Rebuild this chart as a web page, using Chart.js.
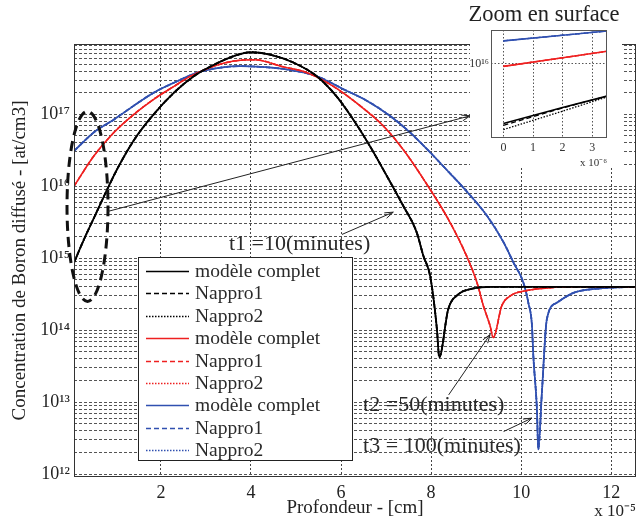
<!DOCTYPE html>
<html><head><meta charset="utf-8">
<script src="https://cdn.jsdelivr.net/npm/chart.js@4.4.1/dist/chart.umd.min.js"></script>
<style>
html,body{margin:0;padding:0;background:#fff;}
#wrap{position:relative;width:637px;height:523px;overflow:hidden;}
#mainBox{position:absolute;left:0;top:0;width:637px;height:523px;}
#insetBox{position:absolute;left:460px;top:0;width:177px;height:170px;}
</style></head><body>
<div id="wrap">
  <div id="mainBox"><canvas id="main"></canvas></div>
  <div id="insetBox"><canvas id="inset"></canvas></div>
</div>
<script>
// ---------- DATA (depth in units of 1e-5 cm, concentration in at/cm3) ----------
const depthT1 = [0.07,0.29,0.55,0.81,1.03,1.40,1.81,2.29,2.73,3.18,3.62,3.99,4.42,4.94,5.46,5.90,6.27,6.64,7.02,7.38,7.68,7.83,7.98,8.13,8.18,8.38,8.61,8.87,9.38,12.55];
const concT1  = [8.7e14,1.82e15,4.07e15,9.1e15,1.74e16,4.37e16,9.5e16,2.0e17,3.39e17,4.9e17,6.46e17,7.3e17,6.76e17,5.25e17,3.39e17,1.78e17,8.5e16,3.63e16,1.38e16,5.37e15,2.29e15,1.07e15,5.6e14,1.02e14,4.2e13,1.95e14,3.16e14,3.72e14,4.0e14,4.0e14];

const depthT2 = [0.07,0.51,0.96,1.40,1.84,2.29,2.66,3.18,3.62,4.07,4.72,5.24,5.83,6.42,6.94,7.38,7.83,8.42,8.79,9.02,9.16,9.31,9.38,9.57,9.76,10.13,10.64,11.20,12.55];
const concT2  = [1.0e16,2.63e16,5.62e16,1.0e17,1.62e17,2.45e17,3.39e17,4.68e17,5.5e17,5.75e17,4.57e17,3.8e17,2.45e17,1.32e17,6.9e16,3.24e16,1.26e16,3.16e15,1.07e15,4.57e14,2.19e14,1.15e14,7.9e13,2.19e14,3.0e14,3.55e14,3.9e14,4.0e14,4.0e14];

const depthT3 = [0.07,0.51,0.96,1.40,1.84,2.29,2.81,3.33,3.77,4.21,4.72,5.46,6.05,6.57,7.09,7.53,7.98,8.42,8.72,9.24,9.61,9.83,10.05,10.16,10.24,10.27,10.35,10.38,10.46,10.57,10.79,11.16,11.76,12.55];
const concT3  = [3.09e16,5.62e16,8.5e16,1.32e17,2.0e17,2.75e17,3.8e17,4.47e17,4.68e17,4.57e17,4.27e17,3.39e17,2.24e17,1.55e17,9.5e16,5.62e16,2.95e16,1.51e16,9.5e15,3.9e15,1.66e15,8.7e14,4.57e14,2.4e14,1.15e14,4.4e13,7.9e12,2.2e12,1.35e13,1.41e14,2.4e14,3.3e14,3.8e14,4.0e14];

// Inset "Zoom en surface" (depth in units of 1e-6 cm)
const surfDepth  = [0, 2, 3.5];
const surfT1full = [5.5e14, 1.2e15, 2.09e15];
const surfT1n1   = [5.0e14, 1.17e15, 2.09e15];
const surfT1n2   = [4.07e14, 1.0e15, 2.0e15];
const surfT2full = [8.9e15, 1.35e16, 1.86e16];
const surfT2n1   = [8.9e15, 1.35e16, 1.86e16];
const surfT2n2   = [8.9e15, 1.35e16, 1.86e16];
const surfT3full = [3.09e16, 4.07e16, 5.0e16];
const surfT3n1   = [3.09e16, 4.07e16, 5.0e16];
const surfT3n2   = [3.09e16, 4.07e16, 5.0e16];

const seriesLabels = ['modèle complet','Nappro1','Nappro2'];
const xTickValues = [2,4,6,8,10,12];
const xTickLabels = ['2','4','6','8','10','12'];
const yTickExponents = [12,13,14,15,16,17];
const yTickLabels = ['10¹²','10¹³','10¹⁴','10¹⁵','10¹⁶','10¹⁷'];
const yMinorMantissas = [1,2,3,4,5,6,7,8,9];
const insetXTickValues = [0,1,2,3];
const insetXTickLabels = ['0','1','2','3'];
const insetYTickValues = [1e16];
const insetYTickLabels = ['10¹⁶'];

const xTitle = 'Profondeur - [cm]';
const yTitle = 'Concentration de Boron diffusé - [at/cm3]';
const xMultiplier = 'x 10⁻⁵';
const insetTitle = 'Zoom en surface';
const insetMultiplier = 'x 10⁻⁶';

const annotationTexts = [
  {x:3.51, y:1.55e15, text:'t1 =10(minutes)'},
  {x:6.49, y:9.1e12,  text:'t2 =50(minutes)'},
  {x:6.49, y:2.4e12,  text:'t3 = 100(minutes)'}
];
const annotationArrows = [
  {x0:0.82, y0:4.47e15, x1:8.87, y1:9.55e16},
  {x0:6.02, y0:2.14e15, x1:7.16, y1:4.37e15},
  {x0:8.39, y0:1.26e13, x1:9.31, y1:8.7e13},
  {x0:9.61, y0:3.9e12,  x1:10.24, y1:6.0e12}
];
const surfaceEllipse = {x:0.37, y:5.25e15};

// ---------- STYLES ----------
const FONT = "'Liberation Serif','Times New Roman',serif";
Chart.defaults.font.family = FONT;
Chart.defaults.color = '#222';
const colors = ['#000000', '#ee2020', '#3050b0'];
const widths = [1.8, 1.5, 1.7];
const dashes = [[], [5,3], [1.5,1.5]];

const mainCurves = [[depthT1, concT1], [depthT2, concT2], [depthT3, concT3]];
const mainDatasets = [];
mainCurves.forEach((c, ci) => {
  seriesLabels.forEach((lab, li) => {
    mainDatasets.push({
      label: lab,
      data: c[0].map((d, i) => ({x: d, y: c[1][i]})),
      borderColor: colors[ci], borderWidth: widths[ci], borderDash: dashes[li],
      pointRadius: 0, fill: false, cubicInterpolationMode: 'monotone'
    });
  });
});

const surfSeries = [[surfT1full, surfT1n1, surfT1n2],[surfT2full, surfT2n1, surfT2n2],[surfT3full, surfT3n1, surfT3n2]];
const insetDatasets = [];
surfSeries.forEach((grp, ci) => {
  grp.forEach((vals, li) => {
    insetDatasets.push({
      label: seriesLabels[li],
      data: surfDepth.map((d, i) => ({x: d, y: vals[i]})),
      borderColor: colors[ci], borderWidth: li === 0 ? 1.6 : 1.3, borderDash: dashes[li],
      pointRadius: 0, fill: false
    });
  });
});

const yGridValues = [];
yTickExponents.forEach(e => yMinorMantissas.forEach(m => yGridValues.push(m * Math.pow(10, e))));

function drawArrow(ctx, x0, y0, x1, y1) {
  ctx.beginPath(); ctx.moveTo(x0, y0); ctx.lineTo(x1, y1); ctx.stroke();
  const a = Math.atan2(y1 - y0, x1 - x0), L = 9, w = 0.33;
  ctx.beginPath();
  ctx.moveTo(x1 - L * Math.cos(a - w), y1 - L * Math.sin(a - w));
  ctx.lineTo(x1, y1);
  ctx.lineTo(x1 - L * Math.cos(a + w), y1 - L * Math.sin(a + w));
  ctx.stroke();
}

const framePlugin = {
  id: 'frame',
  afterDatasetsDraw(chart) {
    const {ctx, chartArea: a} = chart;
    ctx.save();
    ctx.strokeStyle = '#333'; ctx.lineWidth = 1; ctx.setLineDash([]);
    ctx.strokeRect(a.left + 0.5, a.top + 0.5, a.right - a.left - 1, a.bottom - a.top - 1);
    ctx.restore();
  }
};

const annotPlugin = {
  id: 'annot',
  afterDraw(chart) {
    const {ctx, scales: {x, y}, chartArea: a} = chart;
    ctx.save();
    // ellipse around surface region
    ctx.strokeStyle = '#111'; ctx.lineWidth = 3; ctx.setLineDash([10, 6]);
    ctx.beginPath();
    ctx.ellipse(x.getPixelForValue(surfaceEllipse.x), y.getPixelForValue(surfaceEllipse.y), 20.5, 95, 0, 0, Math.PI * 2);
    ctx.stroke();
    // arrows
    ctx.setLineDash([]); ctx.lineWidth = 1; ctx.strokeStyle = '#222';
    annotationArrows.forEach(r => drawArrow(ctx, x.getPixelForValue(r.x0), y.getPixelForValue(r.y0), x.getPixelForValue(r.x1), y.getPixelForValue(r.y1)));
    // texts
    ctx.fillStyle = '#2a2a2a'; ctx.font = '22px ' + FONT; ctx.textBaseline = 'middle'; ctx.textAlign = 'left';
    annotationTexts.forEach(t => ctx.fillText(t.text, x.getPixelForValue(t.x), y.getPixelForValue(t.y)));
    // legend
    const L = {left: a.left + 64, top: 257, w: 215, h: 204, row: 22.4};
    ctx.fillStyle = '#fff';
    ctx.fillRect(L.left, L.top, L.w, L.h);
    ctx.strokeStyle = '#222'; ctx.lineWidth = 1;
    ctx.strokeRect(L.left + 0.5, L.top + 0.5, L.w - 1, L.h - 1);
    ctx.font = '19.5px ' + FONT; ctx.textBaseline = 'middle';
    chart.data.datasets.forEach((ds, i) => {
      const yy = Math.round(L.top + 14 + i * L.row) + 0.5;
      ctx.strokeStyle = ds.borderColor; ctx.lineWidth = 1.6; ctx.setLineDash(ds.borderDash || []);
      ctx.beginPath(); ctx.moveTo(L.left + 8, yy); ctx.lineTo(L.left + 51, yy); ctx.stroke();
      ctx.setLineDash([]);
      ctx.fillStyle = '#2a2a2a';
      ctx.fillText(ds.label, L.left + 57, yy);
    });
    // axis multiplier
    ctx.font = '17px ' + FONT; ctx.textAlign = 'right'; ctx.fillStyle = '#222';
    ctx.fillText(xMultiplier, chart.width - 1, 512);
    ctx.restore();
  }
};

new Chart(document.getElementById('main'), {
  type: 'line',
  data: {datasets: mainDatasets},
  options: {
    responsive: true, maintainAspectRatio: false, animation: false, devicePixelRatio: 1,
    layout: {padding: {top: 44, right: 1, left: 0, bottom: 0}},
    plugins: {legend: {display: false}, tooltip: {enabled: false}, title: {display: false}},
    scales: {
      x: {
        type: 'linear', min: 0.07, max: 12.55,
        afterBuildTicks: s => { s.ticks = xTickValues.map(v => ({value: v})); },
        afterFit: s => { s.height = 46; },
        ticks: {autoSkip: false, maxRotation: 0, padding: 5, font: {size: 18}, color: '#222',
                callback: v => xTickLabels[xTickValues.indexOf(v)]},
        grid: {color: '#444', lineWidth: 1, drawTicks: false},
        border: {display: false, dash: [2, 2]},
        title: {display: true, text: xTitle, font: {size: 19}, color: '#222', padding: {top: 0, bottom: 4}}
      },
      y: {
        type: 'logarithmic', min: 9.1e11, max: 9.5e17,
        afterBuildTicks: s => { s.ticks = yGridValues.filter(v => v >= s.min && v <= s.max).map(v => ({value: v})); },
        afterFit: s => { s.width = 74; },
        ticks: {autoSkip: false, padding: 4, font: {size: 18}, color: '#222',
                callback: v => {
                  const e = Math.round(Math.log10(v));
                  if (Math.abs(v - Math.pow(10, e)) / v < 1e-6) { const k = yTickExponents.indexOf(e); return k >= 0 ? yTickLabels[k] : ''; }
                  return '';
                }},
        grid: {color: '#555', lineWidth: 1, drawTicks: false},
        border: {display: false, dash: [3, 2]},
        title: {display: true, text: yTitle, font: {size: 19}, color: '#222', padding: {top: 9, bottom: 0}}
      }
    }
  },
  plugins: [framePlugin, annotPlugin]
});

// ---------- INSET ----------
const insetPlugin = {
  id: 'insetDeco',
  beforeDraw(chart) {
    const {ctx} = chart;
    ctx.save(); ctx.fillStyle = '#fff'; ctx.fillRect(10, 0, 152, 167); ctx.restore();
  },
  afterDraw(chart) {
    const {ctx, chartArea: a} = chart;
    ctx.save();
    ctx.strokeStyle = '#555'; ctx.lineWidth = 1;
    ctx.strokeRect(a.left + 0.5, a.top + 0.5, a.right - a.left - 1, a.bottom - a.top - 1);
    ctx.fillStyle = '#333'; ctx.font = '11px ' + FONT; ctx.textAlign = 'right'; ctx.textBaseline = 'middle';
    ctx.fillText(insetMultiplier, a.right, 163);
    ctx.fillStyle = '#222'; ctx.font = '22.5px ' + FONT; ctx.textAlign = 'center'; ctx.textBaseline = 'middle';
    ctx.fillText(insetTitle, 84, 15);
    ctx.restore();
  }
};

new Chart(document.getElementById('inset'), {
  type: 'line',
  data: {datasets: insetDatasets},
  options: {
    responsive: true, maintainAspectRatio: false, animation: false, devicePixelRatio: 1,
    layout: {padding: {top: 30, right: 30, left: 0, bottom: 0}},
    plugins: {legend: {display: false}, tooltip: {enabled: false}, title: {display: false}},
    scales: {
      x: {
        type: 'linear', min: -0.42, max: 3.5,
        afterBuildTicks: s => { s.ticks = insetXTickValues.map(v => ({value: v})); },
        afterFit: s => { s.height = 32; },
        ticks: {autoSkip: false, maxRotation: 0, padding: 3, font: {size: 12}, color: '#333',
                callback: v => insetXTickLabels[insetXTickValues.indexOf(v)]},
        grid: {color: '#555', drawTicks: false},
        border: {display: false, dash: [1.5, 2]}
      },
      y: {
        type: 'logarithmic', min: 2.7e14, max: 5.25e16,
        afterBuildTicks: s => { s.ticks = insetYTickValues.map(v => ({value: v})); },
        afterFit: s => { s.width = 31; },
        ticks: {autoSkip: false, padding: 2, font: {size: 12}, color: '#333',
                callback: v => insetYTickLabels[insetYTickValues.indexOf(v)] || ''},
        grid: {color: '#555', drawTicks: false},
        border: {display: false, dash: [1.5, 2]}
      }
    }
  },
  plugins: [insetPlugin]
});
</script>
</body></html>
